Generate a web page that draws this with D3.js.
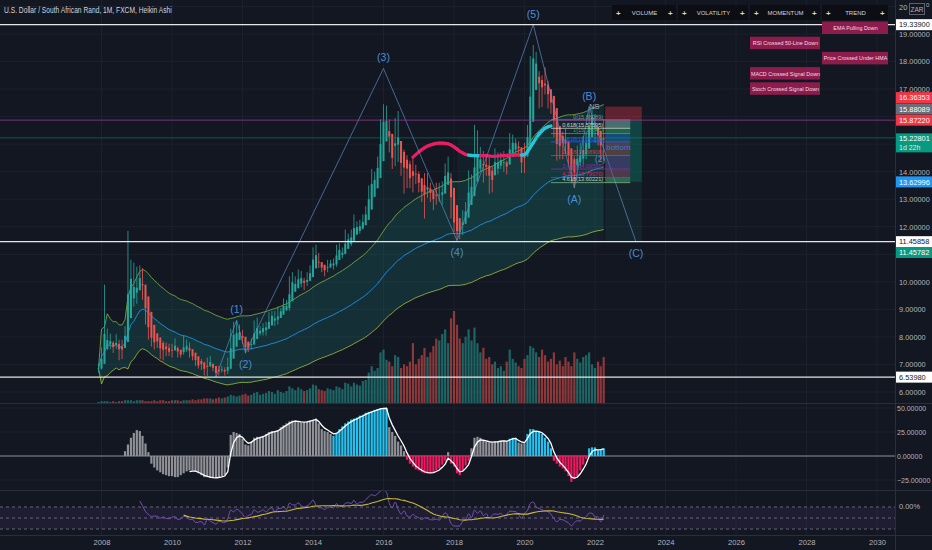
<!DOCTYPE html>
<html>
<head>
<meta charset="utf-8">
<script src="https://cdn.jsdelivr.net/npm/d3@7"></script>
<style>
body{margin:0;background:#131722;}
svg{display:block;font-family:"Liberation Sans",sans-serif;}
</style>
</head>
<body>
<svg id="chart" width="932" height="550"></svg>
<script>
// monthly bars, first bar = Dec 2007
var firstMonth = [2007, 11];
var firstOpen = 6.83;
var closes = [6.86,
 7.50,7.63,8.10,7.62,7.63,7.86,7.29,7.78,8.27,10.00,10.15,9.30,
 10.10,10.15,9.50,8.60,8.10,7.72,7.80,7.78,7.45,7.68,7.42,7.38,
 7.60,7.68,7.30,7.38,7.70,7.66,7.30,7.35,6.96,6.98,7.05,6.62,
 7.20,6.95,6.77,6.60,6.85,6.78,6.70,7.05,8.05,7.90,8.25,8.10,
 7.80,7.45,7.68,7.80,8.40,8.18,8.25,8.47,8.30,8.67,8.85,8.48,
 8.95,8.98,9.22,8.98,10.05,9.90,9.88,10.30,10.05,9.97,10.12,10.48,
 11.15,10.73,10.53,10.50,10.37,10.64,10.72,10.65,11.28,11.05,11.08,11.57,
 11.65,11.60,12.15,11.89,12.18,12.18,12.65,13.25,13.87,13.80,14.41,15.50,
 15.90,15.75,14.75,14.25,15.72,14.72,13.90,14.70,13.75,13.50,14.10,13.70,
 13.45,13.05,13.40,13.35,13.07,13.05,13.17,13.00,13.55,14.15,13.65,12.38,
 11.85,11.80,11.83,12.48,12.70,13.73,13.12,14.70,14.15,14.75,13.85,14.35,
 13.27,14.10,14.42,14.32,14.58,14.08,14.35,15.18,15.14,15.10,14.65,14.00,
 15.00,15.65,17.85,18.50,17.55,17.35,17.05,16.90,16.75,16.25,15.45,14.68,
 15.15,15.10,14.78,14.45,13.75,14.28,14.60,14.55,15.05,15.25,15.95,15.95,
 15.40,15.40,14.60,15.75];
var highs = [7.03,
 7.62,9.90,8.30,8.12,7.85,8.10,7.90,7.90,8.40,11.85,10.80,10.70,
 10.55,10.60,10.50,9.60,8.80,8.40,8.15,8.15,7.90,7.85,7.80,7.75,
 7.75,7.95,7.65,7.50,8.05,7.90,7.80,7.40,7.40,7.05,7.20,7.10,
 7.25,7.30,7.05,6.85,6.95,6.95,6.90,7.25,8.30,8.55,8.60,8.45,
 8.25,7.85,7.85,7.95,8.60,8.70,8.40,8.50,8.55,8.90,8.95,8.95,
 9.10,9.05,9.40,9.35,10.20,10.35,10.20,10.45,10.40,10.15,10.35,10.60,
 11.25,11.35,11.05,10.70,10.60,10.80,10.80,10.85,11.35,11.40,11.25,11.90,
 11.75,11.90,12.45,12.20,12.25,12.45,12.75,13.50,14.10,14.00,14.55,15.90,
 16.45,16.40,15.90,14.90,15.95,16.20,14.80,14.80,14.60,14.40,14.55,14.25,
 14.00,13.70,13.95,13.95,13.60,13.30,13.60,13.60,13.65,14.30,14.55,13.95,
 12.60,12.20,12.10,12.60,12.90,14.05,13.90,15.70,15.50,14.90,14.75,14.65,
 14.60,14.20,14.85,14.70,14.70,14.75,14.40,15.40,15.35,15.20,15.10,14.75,
 15.05,15.70,18.20,18.60,18.35,17.65,17.50,17.80,17.30,16.95,16.50,15.50,
 15.45,15.45,15.55,14.95,14.45,14.55,14.95,15.05,15.30,15.45,16.36,16.35,
 16.10,15.55,15.40,15.90];
var lows = [6.70,
 6.82,7.40,7.52,7.55,7.42,7.55,7.15,7.20,7.70,8.10,9.50,9.10,
 9.20,9.70,9.35,8.45,7.90,7.65,7.55,7.60,7.20,7.15,7.30,7.30,
 7.25,7.50,7.25,7.25,7.35,7.45,7.25,7.15,6.95,6.85,6.80,6.60,
 6.58,6.90,6.75,6.54,6.60,6.70,6.60,6.65,6.95,7.80,7.80,7.90,
 7.75,7.40,7.45,7.55,7.70,8.05,8.05,8.05,8.05,8.30,8.60,8.40,
 8.45,8.75,8.90,8.95,8.95,9.65,9.70,9.75,9.80,9.70,9.85,10.05,
 10.35,10.65,10.50,10.35,10.20,10.35,10.50,10.45,10.55,10.90,10.85,11.00,
 11.20,11.30,11.60,11.70,11.75,11.90,12.20,12.60,13.00,13.15,13.80,14.20,
 15.40,15.30,14.70,14.10,14.20,14.35,13.85,13.20,13.40,13.40,13.25,13.55,
 13.25,12.90,12.30,13.05,12.90,12.60,12.80,12.90,12.80,13.40,13.55,12.30,
 11.80,11.50,11.55,11.70,12.15,12.50,13.05,13.10,14.00,14.00,13.60,13.85,
 13.20,13.25,14.00,13.90,14.10,14.00,13.90,14.30,14.55,14.70,14.55,13.95,
 13.95,14.70,15.20,17.50,17.30,16.30,16.35,16.80,16.30,16.10,15.25,14.40,
 14.45,14.45,14.65,14.20,13.60,13.41,14.05,14.20,14.25,14.45,15.05,15.70,
 15.05,14.95,14.40,14.40];
var volumes = [1,
 2,2,2,1,2,1,2,2,3,3,3,2,
 3,3,3,2,2,2,3,2,3,3,2,2,
 3,3,3,2,3,3,3,4,3,4,4,5,
 5,5,4,5,6,5,6,7,9,8,7,8,
 9,10,8,9,11,12,9,10,11,13,12,10,
 14,12,11,13,18,16,14,17,15,13,14,16,
 20,19,15,14,13,16,15,14,18,17,15,22,
 21,18,22,20,19,24,25,33,40,35,38,55,
 58,47,45,40,52,50,38,42,40,45,65,42,
 48,52,60,50,55,62,70,68,75,80,65,92,
 100,85,70,65,72,80,68,82,65,55,60,48,
 50,42,45,38,40,35,45,58,48,44,40,38,
 48,52,62,60,55,50,58,52,45,48,55,42,
 46,40,50,45,40,55,48,44,50,52,55,42,
 38,45,40,50];

// trend oscillator, first value = Sep 2008
var oscStart = [2008, 8];
var oscValues = [5,12,19,24,
 27,26,21,13,4,-8,-12,-15,-17,-19,-20,-21,
 -21,-22,-22,-20,-18,-16,-15,-15,-16,-18,-20,-22,
 -22,-23,-23,-23,-22,-21,-20,-12,22,25,24,23,
 18,12,11,15,19,20,20,21,23,25,26,26,
 27,30,32,34,36,37,37,36,35,35,36,37,
 38,39,34,28,26,25,23,21,24,28,31,34,
 36,38,39,40,42,43,45,46,47,48,49,50,
 50,50,30,25,21,15,11,5,-4,-8,-11,-14,
 -15,-17,-18,-18,-18,-17,-15,-13,-9,-5,4,-8,
 -11,-18,-20,-15,-10,-5,8,19,20,19,16,15,
 14,14,15,15,16,16,15,18,19,19,14,13,
 13,23,28,28,26,25,23,19,15,8,-5,-8,
 -11,-13,-16,-21,-27,-24,-21,-15,-9,-3,8,9,
 9,6,7,8];
// state runs: n = neutral, u = strong up, d = strong down
var oscStates = [["n",71],["u",19],["n",6],["d",14],["n",1],["d",7],["n",13],["u",3],["n",3],["u",9],["d",12],["u",6]];
var signalStart = [2010, 6];

// hull moving average, first value = Nov 2016
var hmaStart = [2016, 10];
var hmaValues = [14.53,14.62,
 14.72,14.80,14.87,14.93,14.97,15.00,15.03,15.04,15.04,15.03,15.01,14.97,
 14.90,14.82,14.74,14.68,14.63,14.60,14.59,14.58,14.58,14.58,14.58,14.58,
 14.57,14.56,14.56,14.57,14.58,14.58,14.59,14.60,14.61,14.61,14.61,14.60,
 14.62,14.72,14.88,15.05,15.22,15.37,15.48,15.58,15.63,15.66];
var hmaStates = [["d",20],["u",4],["d",14],["u",10]];

// elliott wave count
var waveDates = ["2011-04","2011-11","2012-02","2016-01","2018-02","2020-04","2021-06","2021-11","2023-03"];
var wavePrices = [6.54,8.60,7.42,17.75,11.50,19.339,13.41,16.36,11.458];
var waveLabels = ["","(1)","(2)","(3)","(4)","(5)","(A)","(B)","(C)"];

// fib extension
var fibRatios = ["0","0.618","1","1.618","2.618","3.618","4.236","4.618"];
var fibPrices = [15.88089,15.57595,15.38746,15.08251,14.58908,14.09565,13.79070,13.60221];

// short position tool
var posStart = "2022-04", posEnd = "2023-05";
var posStop = 16.36353, posEntry = 15.87220, posTarget = 13.62996;

var levels = [19.339, 11.45858, 6.5398];
var lastPrice = 15.22801;

var priceTicks = [19,18,17,14,13,12,10,9,8,7,6];
var oscTicks = [50,25,0,-25];
var yearTicks = [2008,2010,2012,2014,2016,2018,2020,2022,2024,2026,2028,2030];

var tableHeaders = ["VOLUME","VOLATILITY","MOMENTUM","TREND"];
var signalText = ["EMA Pulling Down","RSI Crossed 50-Line Down","Price Crossed Under HMA","MACD Crossed Signal Down","Stoch Crossed Signal Down"];
var signalCol = [3,2,3,2,2];

var W = 932, H = 550, AX = 895;
var UP = "#26a69a", DN = "#ef5350";
var svg = d3.select("#chart");

function md(ym, i){ return new Date(ym[0], ym[1] + i, 1); }
function pd(s){ var p = s.split("-"); return new Date(+p[0], +p[1]-1, 1); }
// squeeze text to a condensed look
function narrow(sel, per){
	sel.each(function(){ var n = this.textContent.length; d3.select(this).attr("textLength", n*per).attr("lengthAdjust", "spacingAndGlyphs"); });
}

var x = d3.scaleTime().domain([new Date(2008,0,1), new Date(2030,0,1)]).range([101.5, 877]);
var y = d3.scaleLinear().domain([6,19]).range([392,34]);
var yVol = d3.scaleLinear().domain([0,100]).range([403,311]);
var yOsc = d3.scaleLinear().domain([-25,50]).range([480,408]);
var yRsi = d3.scaleLinear().domain([35,65]).range([529,507]);

// heikin ashi
var bars = [];
closes.forEach(function(c, i){
	var o = i ? closes[i-1] : firstOpen;
	var hc = (o + highs[i] + lows[i] + c) / 4;
	var ho = i ? (bars[i-1].o + bars[i-1].c) / 2 : (o + c) / 2;
	bars.push({date: md(firstMonth, i), o: ho, c: hc,
		h: Math.max(highs[i], ho, hc), l: Math.min(lows[i], ho, hc), v: volumes[i]});
});

// channel: slow ema with a band capped by stdev early on
var N = 80, mid = [], up = [], lo = [], e;
closes.forEach(function(c, i){
	var k = 2 / (Math.min(i+1, N) + 1);
	e = i ? e + k*(c - e) : c;
	var sd = d3.deviation(closes.slice(Math.max(0, i-N+1), i+1)) || 0;
	var w = Math.min(0.16*e, 2.2*sd);
	mid.push(e); up.push(e + w); lo.push(e - w);
});

// rsi 14 + sma 16
function rsi(arr, n){
	var out = [], ag = 0, al = 0;
	for (var i = 1; i < arr.length; i++){
		var ch = arr[i]-arr[i-1], g = Math.max(ch,0), l = Math.max(-ch,0);
		if (i <= n){ ag += g/n; al += l/n; if (i === n) out.push({i:i, v:100-100/(1+ag/al)}); }
		else { ag = (ag*(n-1)+g)/n; al = (al*(n-1)+l)/n; out.push({i:i, v:100-100/(1+ag/al)}); }
	}
	return out;
}
var rsiLine = rsi(closes, 14);
var rsiSma = [];
rsiLine.forEach(function(d, j){
	if (j >= 15) rsiSma.push({i:d.i, v:d3.mean(rsiLine.slice(j-15, j+1), function(q){return q.v;})});
});

// oscillator bars with state colours
var oscColors = {n:"#8f9196", u:"#22c3f0", d:"#f0185e"};
var osc = [], st = [];
oscStates.forEach(function(r){ for (var k = 0; k < r[1]; k++) st.push(r[0]); });
oscValues.forEach(function(v, i){ osc.push({date: md(oscStart, i), v: v, s: st[i]}); });
var sig = [], se;
osc.forEach(function(d){
	se = se === undefined ? d.v : se + 0.5*(d.v - se);
	if (d.date >= md(signalStart, 0)) sig.push({date: d.date, v: se});
});

// background + grid
svg.append("rect").attr("width", W).attr("height", H).attr("fill", "#131722");
var grid = svg.append("g").attr("stroke", "#1d212c").attr("stroke-width", 1);
d3.range(6, 21).forEach(function(v){
	grid.append("line").attr("x1", 0).attr("x2", AX).attr("y1", y(v)).attr("y2", y(v));
});
oscTicks.forEach(function(v){
	grid.append("line").attr("x1", 0).attr("x2", AX).attr("y1", yOsc(v)).attr("y2", yOsc(v));
});
yearTicks.forEach(function(yr){
	grid.append("line").attr("x1", x(new Date(yr,0,1))).attr("x2", x(new Date(yr,0,1))).attr("y1", 0).attr("y2", 535);
});

var defs = svg.append("defs");
defs.append("clipPath").attr("id", "cMain").append("rect").attr("width", AX).attr("height", 403);
var main = svg.append("g").attr("clip-path", "url(#cMain)");

// channel fills
main.append("path").datum(bars)
	.attr("d", d3.area().x(function(d){return x(d.date);}).y0(function(d,i){return y(lo[i]);}).y1(function(d,i){return y(up[i]);}))
	.attr("fill", "#1b8a80").attr("opacity", 0.15);
main.append("path").datum(bars)
	.attr("d", d3.area().x(function(d){return x(d.date);}).y0(function(d,i){return y(lo[i]);}).y1(function(d,i){return y(mid[i]);}))
	.attr("fill", "#1b8a80").attr("opacity", 0.08);
main.append("path").datum(bars)
	.attr("d", d3.area().x(function(d){return x(d.date);}).y0(function(d,i){return y(mid[i]);}).y1(function(d){return y(Math.max(d.c, d.o));}))
	.attr("fill", "#1ea396").attr("opacity", 0.08);

// elliott zone shading
main.append("rect")
	.attr("x", x(pd(waveDates[4]))).attr("width", x(pd(posStart)) - x(pd(waveDates[4])))
	.attr("y", y(lastPrice)).attr("height", y(levels[1]) - y(lastPrice))
	.attr("fill", "#26a69a").attr("opacity", 0.06);
main.append("rect")
	.attr("x", x(pd(posStart)) + 1.5).attr("width", x(pd(posEnd)) - x(pd(posStart)) - 1.5)
	.attr("y", y(posTarget)).attr("height", y(levels[1]) - y(posTarget))
	.attr("fill", "#26a69a").attr("opacity", 0.1);

// volume
main.append("g").selectAll("rect").data(bars).enter().append("rect")
	.attr("x", function(d){return x(d.date) - 1.1;})
	.attr("width", 2.2)
	.attr("y", function(d){return yVol(d.v);})
	.attr("height", function(d){return yVol(0) - yVol(d.v);})
	.attr("fill", function(d){return d.c >= d.o ? UP : DN;})
	.attr("opacity", 0.55);

// channel lines
function bandLine(arr){ return d3.line().x(function(d,i){return x(bars[i].date);}).y(function(d){return y(d);})(arr); }
main.append("path").attr("d", bandLine(up)).attr("fill", "none").attr("stroke", "#8bc34a").attr("stroke-width", 0.9).attr("opacity", 0.8);
main.append("path").attr("d", bandLine(mid)).attr("fill", "none").attr("stroke", "#2196f3").attr("stroke-width", 1).attr("opacity", 0.85);
main.append("path").attr("d", bandLine(lo)).attr("fill", "none").attr("stroke", "#a5c03a").attr("stroke-width", 1).attr("opacity", 0.8);

// candles
var cg = main.append("g");
cg.selectAll("line").data(bars).enter().append("line")
	.attr("x1", function(d){return x(d.date);}).attr("x2", function(d){return x(d.date);})
	.attr("y1", function(d){return y(d.h);}).attr("y2", function(d){return y(d.l);})
	.attr("stroke", function(d){return d.c >= d.o ? UP : DN;}).attr("stroke-width", 0.8);
cg.selectAll("rect").data(bars).enter().append("rect")
	.attr("x", function(d){return x(d.date) - 1;}).attr("width", 2)
	.attr("y", function(d){return y(Math.max(d.o, d.c));})
	.attr("height", function(d){return Math.max(0.8, Math.abs(y(d.o) - y(d.c)));})
	.attr("fill", function(d){return d.c >= d.o ? UP : DN;});

// hull ma, coloured by runs
var hst = [];
hmaStates.forEach(function(r){ for (var k = 0; k < r[1]; k++) hst.push(r[0]); });
var hma = hmaValues.map(function(v, i){ return {date: md(hmaStart, i), v: v, s: hst[i]}; });
var hl = d3.line().x(function(d){return x(d.date);}).y(function(d){return y(d.v);});
for (var i = 1; i < hma.length; i++){
	main.append("path").attr("d", hl([hma[i-1], hma[i]]))
		.attr("stroke", hma[i].s === "u" ? "#26c6da" : "#e91e63")
		.attr("stroke-width", 3.2).attr("stroke-linecap", "round").attr("fill", "none");
}

// elliott waves
var waves = waveDates.map(function(d, i){ return {date: pd(d), v: wavePrices[i], t: waveLabels[i]}; });
main.append("path").datum(waves)
	.attr("d", d3.line().x(function(d){return x(d.date);}).y(function(d){return y(d.v);}))
	.attr("fill", "none").attr("stroke", "#5e8fc8").attr("stroke-width", 0.8).attr("opacity", 0.85);
main.append("g").selectAll("text").data(waves.filter(function(d){return d.t;})).enter().append("text")
	.attr("x", function(d){return x(d.date);})
	.attr("y", function(d){
		var i = waves.indexOf(d), peak = d.v > waves[i-1].v;
		return y(d.v) + (peak ? -7 : 15);
	})
	.attr("text-anchor", "middle").attr("font-size", 10.5).attr("fill", "#4a8ed6")
	.text(function(d){return d.t;});

// position tool
var px0 = x(pd(posStart)) + 1.5, px1 = x(pd(posEnd));
main.append("rect").attr("x", px0).attr("width", px1 - px0)
	.attr("y", y(posStop)).attr("height", y(posEntry) - y(posStop))
	.attr("fill", "#f23645").attr("opacity", 0.35);
main.append("rect").attr("x", px0).attr("width", px1 - px0)
	.attr("y", y(posEntry)).attr("height", y(posTarget) - y(posEntry))
	.attr("fill", "#089981").attr("opacity", 0.35);

// fib extension
var fibColors = ["#9598a1","#e0e0e0","#4caf50","#2962ff","#f23645","#9c27b0","#e91e63","#81c784"];
var fx0 = x(new Date(2020,9,1)), fx1 = x(new Date(2023,0,1));
var fib = main.append("g");
fibPrices.forEach(function(p, i){
	if (i < fibPrices.length - 1){
		fib.append("rect").attr("x", px0).attr("width", fx1 - px0)
			.attr("y", y(p)).attr("height", y(fibPrices[i+1]) - y(p))
			.attr("fill", fibColors[i+1]).attr("opacity", 0.28);
	}
	fib.append("line").attr("x1", fx0).attr("x2", fx1).attr("y1", y(p)).attr("y2", y(p))
		.attr("stroke", fibColors[i]).attr("stroke-width", 0.8).attr("opacity", 0.9);
	fib.append("text").attr("x", px0 - 2).attr("y", y(p) - 1.2).attr("text-anchor", "end")
		.attr("font-size", 5.6).attr("fill", i === fibPrices.length-1 ? "#d1d4dc" : fibColors[i])
		.attr("opacity", 0.9)
		.text(fibRatios[i] + "(" + p.toFixed(5) + ")");
});
main.append("text").attr("x", x(new Date(2021,10,1))).attr("y", y(16.28)).attr("font-size", 7.5).attr("fill", "#8fb0e0").text("NS");
main.append("text").attr("x", x(new Date(2022,0,1))).attr("y", y(14.35)).attr("font-size", 8.5).attr("fill", "#4a8ed6").text("(2)");
main.append("text").attr("x", px0 + 1).attr("y", y(14.8)).attr("font-size", 8).attr("fill", "#3a72e0").text("bottom");

// horizontal levels
levels.forEach(function(v){
	svg.append("line").attr("x1", 0).attr("x2", AX).attr("y1", y(v)).attr("y2", y(v))
		.attr("stroke", "#e6e6e6").attr("stroke-width", 1.3);
});
svg.append("line").attr("x1", 0).attr("x2", AX).attr("y1", y(posEntry)).attr("y2", y(posEntry))
	.attr("stroke", "#9c3c9c").attr("stroke-width", 1).attr("opacity", 0.75);
svg.append("line").attr("x1", 0).attr("x2", AX).attr("y1", y(lastPrice)).attr("y2", y(lastPrice))
	.attr("stroke", "#089981").attr("stroke-width", 0.7).attr("opacity", 0.7);

// oscillator pane
svg.append("line").attr("x1", 0).attr("x2", AX).attr("y1", yOsc(0)).attr("y2", yOsc(0))
	.attr("stroke", "#8a8d96").attr("stroke-width", 1);
svg.append("g").selectAll("rect").data(osc).enter().append("rect")
	.attr("x", function(d){return x(d.date) - 1.1;}).attr("width", 2.2)
	.attr("y", function(d){return yOsc(Math.max(0, d.v));})
	.attr("height", function(d){return Math.abs(yOsc(d.v) - yOsc(0));})
	.attr("fill", function(d){return oscColors[d.s];});
svg.append("path").datum(sig)
	.attr("d", d3.line().x(function(d){return x(d.date);}).y(function(d){return yOsc(d.v);}))
	.attr("fill", "none").attr("stroke", "#ffffff").attr("stroke-width", 1.3);

// rsi pane
svg.append("rect").attr("x", 0).attr("width", AX).attr("y", yRsi(65)).attr("height", yRsi(35) - yRsi(65))
	.attr("fill", "#7e57c2").attr("opacity", 0.1);
[65,50,35].forEach(function(v){
	svg.append("line").attr("x1", 0).attr("x2", AX).attr("y1", yRsi(v)).attr("y2", yRsi(v))
		.attr("stroke", "#787b86").attr("stroke-dasharray", "3,3").attr("stroke-width", 0.8);
});
svg.append("path").datum(rsiLine)
	.attr("d", d3.line().curve(d3.curveMonotoneX).x(function(d){return x(bars[d.i].date);}).y(function(d){return yRsi(d.v);}))
	.attr("fill", "none").attr("stroke", "#7e57c2").attr("stroke-width", 0.9);
svg.append("path").datum(rsiSma)
	.attr("d", d3.line().x(function(d){return x(bars[d.i].date);}).y(function(d){return yRsi(d.v);}))
	.attr("fill", "none").attr("stroke", "#c9b83a").attr("stroke-width", 1.1);

// separators
var sep = svg.append("g").attr("stroke", "#2a2e39").attr("stroke-width", 1);
[403.5, 490.5, 535.5].forEach(function(v){ sep.append("line").attr("x1", 0).attr("x2", W).attr("y1", v).attr("y2", v); });
sep.append("line").attr("x1", AX + 0.5).attr("x2", AX + 0.5).attr("y1", 0).attr("y2", H);

// axes
function styleAxis(g, fs){
	g.select(".domain").remove();
	g.selectAll("text").attr("fill", "#b2b5be").attr("font-size", fs);
}
svg.append("g").attr("transform", "translate(" + AX + ",0)")
	.call(d3.axisRight(y).tickValues(priceTicks).tickFormat(d3.format(".5f")).tickSize(0).tickPadding(4))
	.call(styleAxis, 7.4);
svg.append("g").attr("transform", "translate(" + AX + ",0)")
	.call(d3.axisRight(yOsc).tickValues(oscTicks).tickFormat(d3.format(".5f")).tickSize(0).tickPadding(2))
	.call(styleAxis, 7);
svg.append("g").attr("transform", "translate(0,536)")
	.call(d3.axisBottom(x).tickValues(yearTicks.map(function(t){return new Date(t,0,1);}))
		.tickFormat(d3.timeFormat("%Y")).tickSize(0).tickPadding(4))
	.call(styleAxis, 7.6);
svg.append("text").attr("x", AX + 4).attr("y", yRsi(65) + 2).attr("font-size", 7.4).attr("fill", "#b2b5be").text("0.00%");

// price labels on axis
var tags = [
	{v: levels[0], t: "19.33900", bg: "#ffffff", fg: "#131722", dy: 0},
	{v: posStop, t: "16.36353", bg: "#f23645", fg: "#ffffff", dy: -9},
	{v: fibPrices[0], t: "15.88089", bg: "#6a6d78", fg: "#ffffff", dy: -11},
	{v: posEntry, t: "15.87220", bg: "#f23645", fg: "#ffffff", dy: 0},
	{v: posTarget, t: "13.62996", bg: "#2196f3", fg: "#ffffff", dy: 0},
	{v: levels[1], t: "11.45858", bg: "#ffffff", fg: "#131722", dy: 0},
	{v: lo[lo.length-1], t: "11.45782", bg: "#089981", fg: "#ffffff", dy: 0, at: 252.5},
	{v: levels[2], t: "6.53980", bg: "#ffffff", fg: "#131722", dy: 0}
];
tags.forEach(function(d){
	var cy = d.at || y(d.v) + d.dy;
	svg.append("rect").attr("x", AX + 1).attr("width", W - AX - 1).attr("y", cy - 5.5).attr("height", 11).attr("fill", d.bg);
	svg.append("text").attr("x", AX + 4).attr("y", cy + 2.7).attr("font-size", 7.4).attr("fill", d.fg).text(d.t);
});
svg.append("rect").attr("x", AX + 1).attr("width", W - AX - 1).attr("y", y(lastPrice) - 4.5).attr("height", 19).attr("fill", "#089981");
svg.append("text").attr("x", AX + 4).attr("y", y(lastPrice) + 3.2).attr("font-size", 7.4).attr("fill", "#ffffff").text(lastPrice.toFixed(5));
svg.append("text").attr("x", AX + 4).attr("y", y(lastPrice) + 12).attr("font-size", 7).attr("fill", "#d8f0ea").text("1d 22h");

// currency label
svg.append("text").attr("x", AX + 4).attr("y", 10).attr("font-size", 7.5).attr("fill", "#b2b5be").text("20");
svg.append("rect").attr("x", AX + 14.5).attr("y", 3.5).attr("width", 15).attr("height", 11).attr("fill", "none").attr("stroke", "#5d606b");
svg.append("text").attr("x", AX + 22).attr("y", 12).attr("text-anchor", "middle").attr("font-size", 6.5).attr("fill", "#b2b5be").text("ZAR");
svg.append("text").attr("x", AX + 31).attr("y", 7).attr("font-size", 6).attr("fill", "#b2b5be").text("0");

// title
svg.append("text").attr("x", 4).attr("y", 13).attr("font-size", 8.5).attr("fill", "#d1d4dc")
	.text("U.S. Dollar / South African Rand, 1M, FXCM, Heikin Ashi").call(narrow, 3.05);

// signal table
var colX = [612, 678, 750, 822], colW = [65, 71, 71, 67];
var tb = svg.append("g");
tableHeaders.forEach(function(h, i){
	tb.append("rect").attr("x", colX[i]).attr("y", 5).attr("width", colW[i] - 1).attr("height", 15).attr("fill", "#0c0e14");
	tb.append("text").attr("x", colX[i] + colW[i]/2).attr("y", 15).attr("text-anchor", "middle").attr("font-size", 6).attr("fill", "#d1d4dc").text(h);
	tb.append("text").attr("x", colX[i] + 4).attr("y", 15.5).attr("font-size", 8).attr("font-weight", "bold").attr("fill", "#d1d4dc").text("+");
	tb.append("text").attr("x", colX[i] + colW[i] - 9).attr("y", 15.5).attr("font-size", 8).attr("font-weight", "bold").attr("fill", "#d1d4dc").text("+");
});
signalText.forEach(function(t, r){
	var c = signalCol[r], sy = 21.5 + r*15.2;
	tb.append("rect").attr("x", colX[c]).attr("y", sy).attr("width", colW[c] - 1).attr("height", 12.5).attr("fill", "#8c1c4b");
	tb.append("text").attr("x", colX[c] + colW[c]/2).attr("y", sy + 8.5).attr("text-anchor", "middle").attr("font-size", 5.4).attr("fill", "#f3dbe4").text(t);
});
</script>
</body>
</html>
